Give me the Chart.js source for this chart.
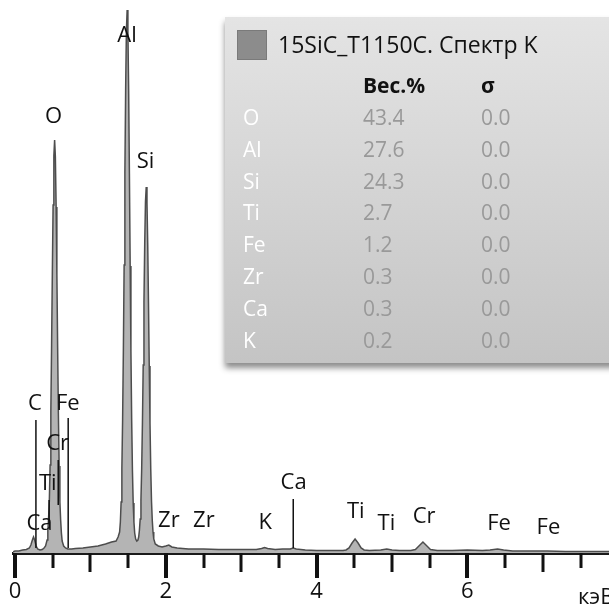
<!DOCTYPE html>
<html>
<head>
<meta charset="utf-8">
<script src="https://cdn.jsdelivr.net/npm/chart.js@4.4.1/dist/chart.umd.min.js"></script>
<style>
  html, body { margin: 0; padding: 0; background: #fff; overflow: hidden; }
  #wrap { position: relative; width: 609px; height: 606px; }
  #spectrum { display: block; }
  #box {
    position: absolute; left: 225px; top: 17px; width: 400px; height: 346px;
    background: linear-gradient(#e4e4e4, #c4c4c4);
    box-shadow: 0 5px 6px rgba(0,0,0,0.45);
    font-family: "Open Sans", sans-serif; color: #111;
  }
  #swatch { position: absolute; left: 12px; top: 13px; width: 28px; height: 28px; background: #8c8c8c; border: 1px solid #7a7a7a; }
  #title { position: absolute; left: 53px; top: 12px; font-size: 23px; line-height: 30px; white-space: nowrap; }
  .row { position: absolute; left: 0; height: 32px; line-height: 32px; font-size: 21px; white-space: nowrap; }
  .row span { position: absolute; top: 0; }
  .el { left: 18px; color: #fff; }
  .val { left: 138px; color: #999; }
  .sig { left: 256px; color: #999; }
  .hdr { font-weight: bold; color: #111; }
</style>
</head>
<body>
<div id="wrap">
  <canvas id="spectrum" width="609" height="606"></canvas>
  <div id="box">
    <div id="swatch"></div>
    <div id="title">15SiC_T1150C. Спектр K</div>
  </div>
</div>
<script>
// --- spectre (énergie en keV, intensité en unités relatives) ---
const energy = [
  -0.03, 0.0, 0.05, 0.10, 0.15, 0.19, 0.21, 0.23, 0.245, 0.26, 0.28, 0.30, 0.33, 0.36, 0.385, 0.405,
  0.425, 0.435, 0.445, 0.455, 0.465, 0.475, 0.485, 0.495, 0.505, 0.515, 0.525, 0.535, 0.545, 0.555,
  0.565, 0.575, 0.585, 0.595, 0.605, 0.615, 0.625, 0.645, 0.67, 0.70,
  0.75, 0.80, 0.90, 1.00, 1.10, 1.20, 1.28, 1.34,
  1.367, 1.387, 1.397, 1.407, 1.417, 1.427, 1.437, 1.447, 1.457, 1.467, 1.477, 1.487, 1.497, 1.507,
  1.517, 1.527, 1.537, 1.547, 1.557, 1.567, 1.577, 1.587, 1.60, 1.615,
  1.63, 1.64, 1.65, 1.66, 1.67, 1.68, 1.69, 1.70, 1.71, 1.72, 1.73, 1.74, 1.75, 1.76, 1.77, 1.78,
  1.79, 1.80, 1.81, 1.82, 1.83, 1.84, 1.86, 1.90, 1.95, 2.00, 2.04, 2.08, 2.15, 2.30, 2.50, 2.70,
  2.90, 3.10, 3.20, 3.27, 3.31, 3.35, 3.45, 3.55, 3.65, 3.69, 3.73, 3.85, 4.00, 4.20, 4.35, 4.39,
  4.43, 4.47, 4.51, 4.55, 4.59, 4.63, 4.70, 4.85, 4.93, 5.00, 5.10, 5.25, 5.31, 5.35, 5.41, 5.47,
  5.51, 5.60, 5.80, 6.00, 6.20, 6.30, 6.40, 6.48, 6.60, 6.80, 7.06, 7.30, 7.60, 7.90
];
const counts = [
  1, 2, 2, 3, 3.5, 5, 8, 13, 16, 13, 7, 4, 3, 3.5, 5, 7,
  13, 22, 35, 52, 88, 141, 208, 281, 348, 397, 413, 396, 346, 279,
  206, 139, 87, 51, 33, 20, 12, 7, 5, 4,
  4, 4.5, 5, 6, 7, 9, 11, 12,
  16, 21, 31, 51, 84, 134, 203, 288, 380, 463, 522, 543, 521, 462,
  379, 287, 202, 133, 83, 50, 31, 20, 14, 12,
  13, 16, 23, 34, 53, 85, 131, 188, 251, 309, 351, 366, 350, 308, 250, 187,
  130, 84, 52, 33, 21, 14, 9, 7, 6, 7, 8, 6, 5, 4, 4, 3.5,
  3.5, 3.5, 3.5, 4.5, 5.5, 4.5, 3.5, 4, 4, 5, 4, 3, 2.5, 2.5, 2.5, 3,
  5, 10, 14, 10, 5, 3, 2.5, 3, 4, 3, 2.5, 2.5, 3.5, 6.5, 11, 6.5,
  3.5, 2.5, 2.5, 3, 2.5, 3, 4, 3, 2, 2, 2, 1.5, 1.5, 1.5
];

// --- axe des énergies ---
const tickValues = [0, 0.5, 1, 1.5, 2, 2.5, 3, 3.5, 4, 4.5, 5, 5.5, 6, 6.5, 7, 7.5];
const tickLabels = ['0', '', '', '', '2', '', '', '', '4', '', '', '', '6', '', '', ''];
const axisUnit = 'кэВ';

// --- repères des raies ---
const peakNames  = ['O', 'Al', 'Si', 'C', 'Fe', 'Cr', 'Ti', 'Ca', 'Zr', 'Zr', 'K', 'Ca', 'Ti', 'Ti', 'Cr', 'Fe', 'Fe'];
const peakEnergy = [0.51, 1.485, 1.73, 0.265, 0.70, 0.565, 0.435, 0.325, 2.04, 2.505, 3.32, 3.695, 4.52, 4.925, 5.425, 6.42, 7.075];
const peakLabelY = [430, 511, 385, 143, 143, 103, 63, 23, 26, 26, 24, 64, 35, 23, 30, 23, 19];
const markerEnergy = [0.277, 0.705, 0.573, 0.452, 3.69];
const markerTop    = [133, 135, 93, 53, 54];
const markerBottom = [5, 5, 48, 30, 5];

// --- tableau de composition ---
const elements = ['O', 'Al', 'Si', 'Ti', 'Fe', 'Zr', 'Ca', 'K'];
const weightPct = ['43.4', '27.6', '24.3', '2.7', '1.2', '0.3', '0.3', '0.2'];
const sigmaPct = ['0.0', '0.0', '0.0', '0.0', '0.0', '0.0', '0.0', '0.0'];

const box = document.getElementById('box');
function addRow(top, a, b, c, hdr) {
  const r = document.createElement('div');
  r.className = 'row' + (hdr ? ' hdr' : '');
  r.style.top = top + 'px';
  r.innerHTML = `<span class="el">${a}</span><span class="${hdr ? '' : 'val'}" style="left:138px">${b}</span><span class="${hdr ? '' : 'sig'}" style="left:256px">${c}</span>`;
  box.appendChild(r);
}
addRow(52, '', 'Вес.%', 'σ', true);
elements.forEach((el, i) => addRow(84 + i * 31.8, el, weightPct[i], sigmaPct[i], false));

// ticks (3 longueurs) + annotations des raies
const spectrumDecor = {
  id: 'spectrumDecor',
  afterDatasetsDraw(chart) {
    const ctx = chart.ctx, x = chart.scales.x, y = chart.scales.y;
    ctx.save();
    // graduations
    ctx.strokeStyle = '#111';
    tickValues.forEach(v => {
      const px = Math.round(x.getPixelForValue(v));
      let len = 15, w = 3;
      if (v % 2 === 0) { len = 25; w = 4; }
      else if (v % 1 === 0) { len = 19; w = 3; }
      ctx.lineWidth = w;
      ctx.beginPath();
      ctx.moveTo(px, x.top);
      ctx.lineTo(px, x.top + len);
      ctx.stroke();
    });
    // unité
    ctx.fillStyle = '#111';
    ctx.font = '22px "Open Sans"';
    ctx.textAlign = 'left';
    ctx.textBaseline = 'alphabetic';
    ctx.fillText(axisUnit, 578, 604);
    // traits verticaux
    ctx.lineWidth = 1.5;
    markerEnergy.forEach((e, i) => {
      const px = x.getPixelForValue(e);
      ctx.beginPath();
      ctx.moveTo(px, y.getPixelForValue(markerTop[i]));
      ctx.lineTo(px, y.getPixelForValue(markerBottom[i]));
      ctx.stroke();
    });
    // noms des raies
    ctx.textAlign = 'center';
    peakNames.forEach((n, i) => {
      ctx.fillText(n, x.getPixelForValue(peakEnergy[i]), y.getPixelForValue(peakLabelY[i]));
    });
    ctx.restore();
  }
};

const ctx = document.getElementById('spectrum').getContext('2d');
const chart = new Chart(ctx, {
  type: 'line',
  data: {
    datasets: [{
      data: energy.map((e, i) => ({ x: e, y: counts[i] })),
      borderColor: '#4d4d4d',
      borderWidth: 1.5,
      backgroundColor: '#b4b4b4',
      fill: 'origin',
      pointRadius: 0,
      tension: 0
    }]
  },
  options: {
    responsive: false,
    animation: false,
    layout: { padding: { left: 13, right: 0, top: 0, bottom: 0 } },
    plugins: { legend: { display: false }, tooltip: { enabled: false } },
    scales: {
      x: {
        type: 'linear',
        min: -0.027,
        max: 7.878,
        afterBuildTicks: s => { s.ticks = tickValues.map(v => ({ value: v })); },
        grid: { drawOnChartArea: false, drawTicks: true, tickLength: 24, tickColor: 'rgba(0,0,0,0)' },
        border: { display: true, color: '#1a1a1a', width: 3 },
        ticks: {
          autoSkip: false,
          maxRotation: 0,
          padding: 1.3,
          color: '#111',
          font: { family: 'Open Sans', size: 22 },
          callback: (v, i) => tickLabels[i]
        }
      },
      y: { display: false, min: 0, max: 553 }
    }
  },
  plugins: [spectrumDecor]
});
</script>
</body>
</html>
